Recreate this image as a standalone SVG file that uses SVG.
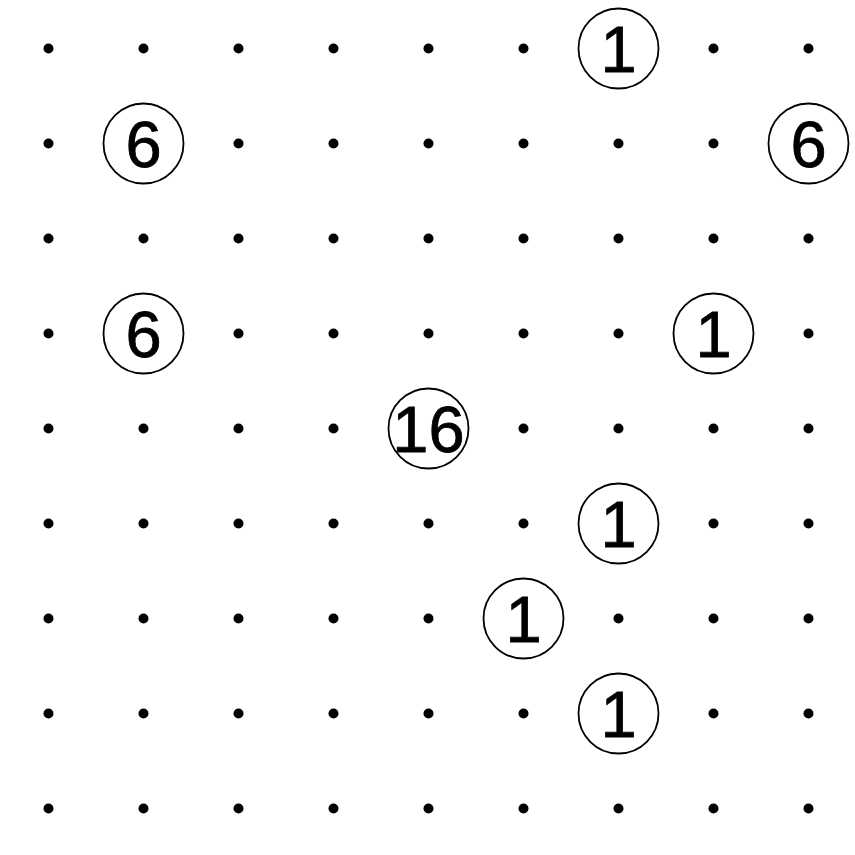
<svg xmlns="http://www.w3.org/2000/svg" width="855" height="855" viewBox="0 0 855 855">
<style>
.dot{fill:#000}
.ring{fill:#fff;stroke:#000;stroke-width:1.8}
.num{font-family:"Liberation Sans",Arial,sans-serif;font-size:65px;text-anchor:middle;fill:#000;stroke:#000;stroke-width:0.8}
</style>
<rect width="855" height="855" fill="#fff"/>
<defs><circle id="d" r="5" class="dot"/></defs>
<g id="dots">
<g transform="translate(48.5,48.5)">
<use href="#d" x="0" y="0"/><use href="#d" x="95" y="0"/><use href="#d" x="190" y="0"/><use href="#d" x="285" y="0"/><use href="#d" x="380" y="0"/><use href="#d" x="475" y="0"/><use href="#d" x="570" y="0"/><use href="#d" x="665" y="0"/><use href="#d" x="760" y="0"/>
<use href="#d" x="0" y="95"/><use href="#d" x="95" y="95"/><use href="#d" x="190" y="95"/><use href="#d" x="285" y="95"/><use href="#d" x="380" y="95"/><use href="#d" x="475" y="95"/><use href="#d" x="570" y="95"/><use href="#d" x="665" y="95"/><use href="#d" x="760" y="95"/>
<use href="#d" x="0" y="190"/><use href="#d" x="95" y="190"/><use href="#d" x="190" y="190"/><use href="#d" x="285" y="190"/><use href="#d" x="380" y="190"/><use href="#d" x="475" y="190"/><use href="#d" x="570" y="190"/><use href="#d" x="665" y="190"/><use href="#d" x="760" y="190"/>
<use href="#d" x="0" y="285"/><use href="#d" x="95" y="285"/><use href="#d" x="190" y="285"/><use href="#d" x="285" y="285"/><use href="#d" x="380" y="285"/><use href="#d" x="475" y="285"/><use href="#d" x="570" y="285"/><use href="#d" x="665" y="285"/><use href="#d" x="760" y="285"/>
<use href="#d" x="0" y="380"/><use href="#d" x="95" y="380"/><use href="#d" x="190" y="380"/><use href="#d" x="285" y="380"/><use href="#d" x="380" y="380"/><use href="#d" x="475" y="380"/><use href="#d" x="570" y="380"/><use href="#d" x="665" y="380"/><use href="#d" x="760" y="380"/>
<use href="#d" x="0" y="475"/><use href="#d" x="95" y="475"/><use href="#d" x="190" y="475"/><use href="#d" x="285" y="475"/><use href="#d" x="380" y="475"/><use href="#d" x="475" y="475"/><use href="#d" x="570" y="475"/><use href="#d" x="665" y="475"/><use href="#d" x="760" y="475"/>
<use href="#d" x="0" y="570"/><use href="#d" x="95" y="570"/><use href="#d" x="190" y="570"/><use href="#d" x="285" y="570"/><use href="#d" x="380" y="570"/><use href="#d" x="475" y="570"/><use href="#d" x="570" y="570"/><use href="#d" x="665" y="570"/><use href="#d" x="760" y="570"/>
<use href="#d" x="0" y="665"/><use href="#d" x="95" y="665"/><use href="#d" x="190" y="665"/><use href="#d" x="285" y="665"/><use href="#d" x="380" y="665"/><use href="#d" x="475" y="665"/><use href="#d" x="570" y="665"/><use href="#d" x="665" y="665"/><use href="#d" x="760" y="665"/>
<use href="#d" x="0" y="760"/><use href="#d" x="95" y="760"/><use href="#d" x="190" y="760"/><use href="#d" x="285" y="760"/><use href="#d" x="380" y="760"/><use href="#d" x="475" y="760"/><use href="#d" x="570" y="760"/><use href="#d" x="665" y="760"/><use href="#d" x="760" y="760"/>
</g>
</g>
<g id="n1"><circle class="ring" cx="618.5" cy="48.5" r="40"/><text class="num" x="618.5" y="72">1</text></g>
<g id="n2"><circle class="ring" cx="143.5" cy="143.5" r="40"/><text class="num" x="143.5" y="167">6</text></g>
<g id="n3"><circle class="ring" cx="808.5" cy="143.5" r="40"/><text class="num" x="808.5" y="167">6</text></g>
<g id="n4"><circle class="ring" cx="143.5" cy="333.5" r="40"/><text class="num" x="143.5" y="357">6</text></g>
<g id="n5"><circle class="ring" cx="713.5" cy="333.5" r="40"/><text class="num" x="713.5" y="357">1</text></g>
<g id="n6"><circle class="ring" cx="428.5" cy="428.5" r="40"/><text class="num" x="428.5" y="452">16</text></g>
<g id="n7"><circle class="ring" cx="618.5" cy="523.5" r="40"/><text class="num" x="618.5" y="547">1</text></g>
<g id="n8"><circle class="ring" cx="523.5" cy="618.5" r="40"/><text class="num" x="523.5" y="642">1</text></g>
<g id="n9"><circle class="ring" cx="618.5" cy="713.5" r="40"/><text class="num" x="618.5" y="737">1</text></g>
<g id="connectors"/>
</svg>
